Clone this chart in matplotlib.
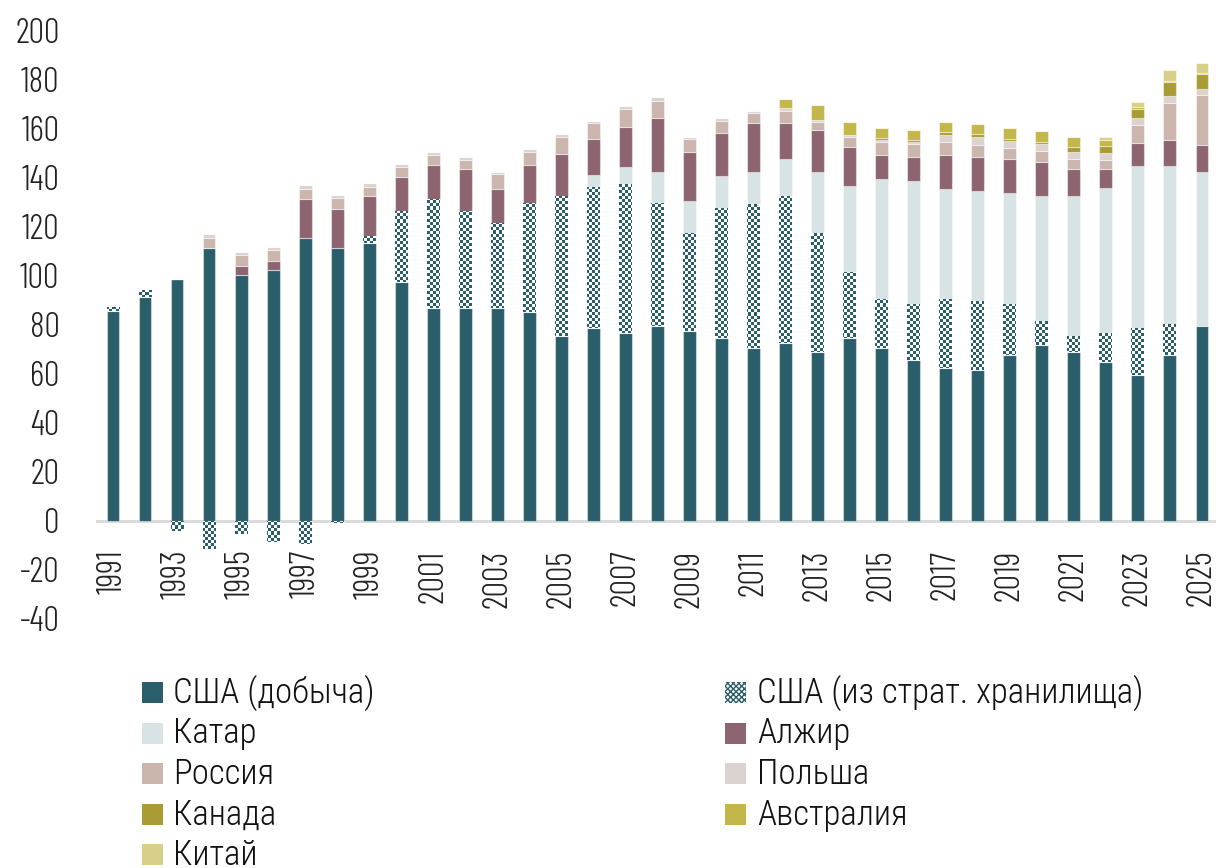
import numpy as np
import matplotlib
matplotlib.use("Agg")
import matplotlib.pyplot as plt
from matplotlib.patches import Rectangle
from matplotlib.colors import ListedColormap

years = list(range(1991, 2026))
year_labels = [str(y) if (y - 1991) % 2 == 0 else "" for y in years]

usa_prod = [85.5, 91.4, 98.7, 111.4, 100.3, 102.4, 115.4, 111.4, 113.4,
            97.5, 86.6, 86.6, 86.6, 85.2, 75.3, 78.4, 76.7, 79.5, 77.5,
            74.4, 70.5, 72.4, 68.7, 74.5, 70.5, 65.5, 62.4, 61.6, 67.4,
            71.5, 68.7, 64.6, 59.5, 67.6, 79.4]
usa_spr = [1.7, 2.7, -4.2, -11.8, -5.6, -8.6, -9.7, -1.0, 2.8,
           28.8, 44.6, 39.7, 34.8, 44.3, 57.3, 57.9, 60.8, 50.0, 39.8,
           53.0, 58.8, 60.0, 48.6, 27.1, 19.9, 23.0, 28.1, 28.0, 21.1,
           9.9, 6.7, 11.9, 18.9, 12.6, 0.0]
qatar = [0, 0, 0, 0, 0, 0, 0, 0, 0,
         0, 0, 0, 0, 0, 0, 4.6, 6.9, 12.6, 13.2,
         13.1, 13.1, 15.2, 25.1, 34.8, 49.0, 49.9, 44.9, 44.9, 45.1,
         51.2, 57.2, 59.1, 66.2, 64.4, 63.0]
algeria = [0, 0, 0, 0, 3.7, 3.5, 15.8, 15.9, 16.1,
           14.0, 13.9, 17.0, 14.0, 15.7, 16.9, 14.9, 16.1, 22.3, 20.0,
           17.8, 20.0, 14.8, 16.9, 15.9, 9.9, 10.0, 13.9, 13.9, 13.8,
           13.8, 10.7, 7.7, 9.4, 10.8, 10.9]
russia = [0, 0, 0, 4.0, 4.4, 4.5, 4.1, 4.3, 3.8,
          4.1, 4.2, 4.0, 6.2, 5.3, 7.2, 6.3, 7.3, 6.9, 5.1,
          4.9, 3.8, 4.9, 3.2, 4.1, 5.2, 5.2, 5.2, 5.0, 4.8,
          4.5, 4.4, 4.0, 7.6, 15.1, 20.5]
poland = [0, 0, 0, 1.7, 1.3, 1.4, 1.6, 1.3, 1.5,
          1.0, 1.1, 1.1, 0.8, 1.0, 1.1, 1.0, 1.4, 1.7, 1.1,
          1.0, 0.9, 0.9, 1.0, 0.9, 0.8, 0.8, 3.0, 3.1, 2.8,
          2.9, 2.8, 2.8, 2.7, 2.9, 2.4]
canada = [0] * 24 + [0.9, 0.8, 1.1, 1.1, 0.8, 0.8, 1.8, 2.9, 3.8, 5.6, 6.0]
australia = [0] * 21 + [3.8, 6.0, 5.2, 4.0, 4.1, 4.1, 4.2, 4.3, 4.4, 4.4, 2.4, 0.8, 0.3, 0.3]
china = [0] * 31 + [1.1, 1.8, 4.4, 4.4]

labels = ["США (добыча)", "США (из страт. хранилища)", "Катар", "Алжир",
          "Россия", "Польша", "Канада", "Австралия", "Китай"]
colors = {"prod": "#2a5e6b", "qatar": "#d7e3e4", "algeria": "#8c6570",
          "russia": "#cbb6ae", "poland": "#dcd2cf", "canada": "#a99c37",
          "australia": "#c4b74a", "china": "#d8d08a"}

tick_font = dict(family=["Barlow Condensed", "Roboto Condensed", "DejaVu Sans"], weight=300)
leg_font = dict(family=["Roboto Condensed", "DejaVu Sans"], weight=300)

W, H = 1216, 868
fig = plt.figure(figsize=(W / 100, H / 100), dpi=100)
ax = fig.add_axes([97 / W, 1 - 618.5 / H, 1 - 97 / W, (618.5 - 30.5) / H])

x = np.arange(len(years))
w = 0.4
prod = np.array(usa_prod)
spr = np.array(usa_spr)
edge = dict(edgecolor=(1, 1, 1, 0.45), linewidth=0.8)

ax.bar(x, prod, w, color=colors["prod"], zorder=2, **edge)
spr_bottom = np.where(spr > 0, prod, 0.0)
spr_bars = ax.bar(x, spr, w, bottom=spr_bottom, color="white", zorder=2, **edge)
base = prod + np.clip(spr, 0, None)
for key, vals in [("qatar", qatar), ("algeria", algeria), ("russia", russia),
                  ("poland", poland), ("canada", canada), ("australia", australia),
                  ("china", china)]:
    v = np.array(vals, dtype=float)
    ax.bar(x, v, w, bottom=base, color=colors[key], zorder=2, **edge)
    base = base + v

XL = (-0.5, 34.44)
YL = (-40, 200)

# checkerboard texture for the strategic-reserve bars
cell = 3.0
nx = int((W - 97) / cell)
ny = int((618.5 - 30.5) / cell)
ii, jj = np.meshgrid(np.arange(nx), np.arange(ny))
checker = ((ii + jj) % 2).astype(float)
cmap = ListedColormap(["white", colors["prod"]])
for b in spr_bars:
    if b.get_height() == 0:
        continue
    im = ax.imshow(checker, extent=[XL[0], XL[1], YL[0], YL[1]], cmap=cmap,
                   interpolation="nearest", aspect="auto", zorder=2.5)
    im.set_clip_path(b)
ax.set_xlim(*XL)
ax.set_ylim(*YL)

for s in ["top", "right", "left"]:
    ax.spines[s].set_visible(False)
ax.spines["bottom"].set_position(("data", 0))
ax.spines["bottom"].set_color("#d9d9d9")
ax.spines["bottom"].set_linewidth(2)
ax.spines["bottom"].set_zorder(1)

ax.set_yticks(np.arange(-40, 201, 20))
ax.set_yticklabels([str(v) for v in range(-40, 201, 20)], fontsize=25, color="#222222", **tick_font)
ax.tick_params(axis="y", length=0, pad=27)
ax.set_xticks(x)
ax.set_xticklabels(year_labels, rotation=90, fontsize=25, color="#222222", **tick_font)
ax.tick_params(axis="x", length=0, pad=21)

# legend (two columns, laid out row by row)
order = [[0, 1], [2, 3], [4, 5], [6, 7], [8]]
hcolors = [colors["prod"], None, colors["qatar"], colors["algeria"], colors["russia"],
           colors["poland"], colors["canada"], colors["australia"], colors["china"]]
col_x = [(142, 173), (725, 757)]
for r, row in enumerate(order):
    top = 682 + 40.5 * r
    for c, idx in enumerate(row):
        sx, tx = col_x[c]
        if hcolors[idx] is None:
            rect = Rectangle((sx / W, 1 - (top + 21) / H), 21 / W, 21 / H,
                             transform=fig.transFigure, facecolor="white",
                             edgecolor=colors["prod"], hatch="xxxxxx", linewidth=0)
        else:
            rect = Rectangle((sx / W, 1 - (top + 21) / H), 21 / W, 21 / H,
                             transform=fig.transFigure, facecolor=hcolors[idx],
                             edgecolor="none")
        fig.patches.append(rect)
        fig.text(tx / W, 1 - (top + 21) / H, labels[idx], fontsize=25, color="#111111",
                 va="baseline", ha="left", **leg_font)

fig.savefig("out.png", dpi=100)
